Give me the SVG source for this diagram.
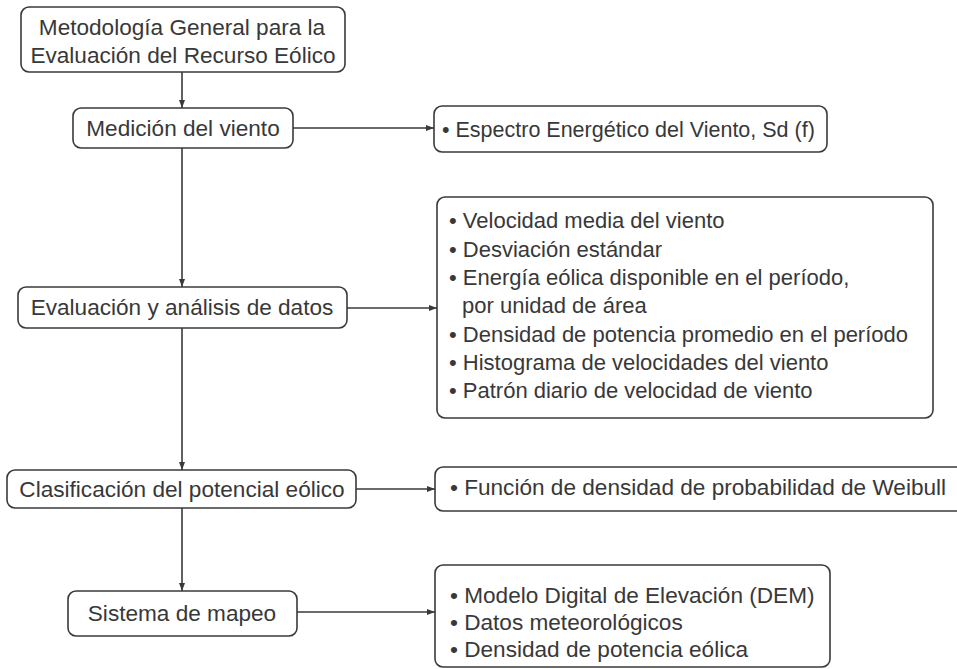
<svg xmlns="http://www.w3.org/2000/svg" width="957" height="669" viewBox="0 0 957 669">
<style>
.box{fill:#fff;stroke:#3a3a3a;stroke-width:1.6}
.t{font-family:"Liberation Sans",Arial,sans-serif;font-size:22.6px;fill:#383838}
.s{font-size:22px}
.c{text-anchor:middle}
.ln{fill:none;stroke:#3a3a3a;stroke-width:1.6}
</style>
<defs>
<marker id="ah" viewBox="0 0 8 8" refX="8" refY="4" markerWidth="8" markerHeight="8" markerUnits="userSpaceOnUse" orient="auto">
<path d="M0,1 L8,4 L0,7 Z" fill="#3a3a3a"/>
</marker>
</defs>
<rect width="957" height="669" fill="#fff"/>
<g id="connectors">
<path class="ln" d="M182,72 V108" marker-end="url(#ah)"/>
<path class="ln" d="M182,148 V287" marker-end="url(#ah)"/>
<path class="ln" d="M182,328 V470" marker-end="url(#ah)"/>
<path class="ln" d="M182,508 V591" marker-end="url(#ah)"/>
<path class="ln" d="M293,128 H434" marker-end="url(#ah)"/>
<path class="ln" d="M347,308 H437" marker-end="url(#ah)"/>
<path class="ln" d="M356,489 H435" marker-end="url(#ah)"/>
<path class="ln" d="M297,612 H435" marker-end="url(#ah)"/>
</g>
<g id="title">
<rect class="box" x="21" y="7" width="324" height="65" rx="8"/>
<text class="t c" x="182" y="35">Metodología General para la</text>
<text class="t c" x="183" y="63">Evaluación del Recurso Eólico</text>
</g>
<g id="medicion">
<rect class="box" x="73" y="108" width="220" height="40" rx="8"/>
<text class="t c" x="183" y="136">Medición del viento</text>
</g>
<g id="espectro">
<rect class="box" x="434" y="106" width="393" height="46" rx="8"/>
<text class="t" x="442" y="137" style="font-size:21.5px">• Espectro Energético del Viento, Sd (f)</text>
</g>
<g id="evaluacion">
<rect class="box" x="18" y="287" width="329" height="41" rx="8"/>
<text class="t c" x="182" y="315">Evaluación y análisis de datos</text>
</g>
<g id="resultados">
<rect class="box" x="437" y="197" width="496" height="221" rx="8"/>
<text class="t s" x="449" y="228">• Velocidad media del viento</text>
<text class="t s" x="449" y="257">• Desviación estándar</text>
<text class="t s" x="449" y="285">• Energía eólica disponible en el período,</text>
<text class="t s" x="462" y="313">por unidad de área</text>
<text class="t s" x="449" y="342">• Densidad de potencia promedio en el período</text>
<text class="t s" x="449" y="370">• Histograma de velocidades del viento</text>
<text class="t s" x="449" y="398">• Patrón diario de velocidad de viento</text>
</g>
<g id="clasificacion">
<rect class="box" x="7" y="470" width="349" height="38" rx="8"/>
<text class="t c" x="182" y="497">Clasificación del potencial eólico</text>
</g>
<g id="weibull">
<rect class="box" x="435" y="467" width="540" height="44" rx="8"/>
<text class="t" x="450" y="495">• Función de densidad de probabilidad de Weibull</text>
</g>
<g id="sistema">
<rect class="box" x="68" y="591" width="229" height="45" rx="8"/>
<text class="t c" x="182" y="621">Sistema de mapeo</text>
</g>
<g id="mapeo">
<rect class="box" x="435" y="565" width="395" height="102" rx="8"/>
<text class="t" x="450" y="603">• Modelo Digital de Elevación (DEM)</text>
<text class="t" x="450" y="630">• Datos meteorológicos</text>
<text class="t" x="450" y="657">• Densidad de potencia eólica</text>
</g>
</svg>
